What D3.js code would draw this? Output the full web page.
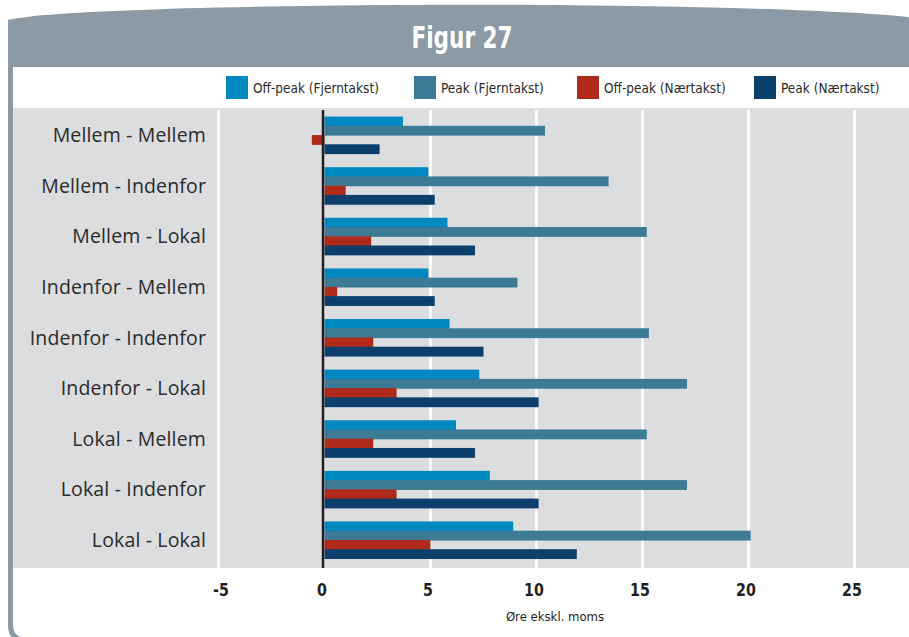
<!DOCTYPE html>
<html>
<head>
<meta charset="utf-8">
<script src="https://cdn.jsdelivr.net/npm/d3@7"></script>
<style>
  html, body { margin: 0; padding: 0; background: #ffffff; }
  svg { display: block; }
</style>
</head>
<body>
<svg id="chart" width="909" height="637"></svg>
<script>
// Route combinations (origin - destination zones)
const categories = [
  "Mellem - Mellem", "Mellem - Indenfor", "Mellem - Lokal",
  "Indenfor - Mellem", "Indenfor - Indenfor", "Indenfor - Lokal",
  "Lokal - Mellem", "Lokal - Indenfor", "Lokal - Lokal"
];
const seriesNames = ["Off-peak (Fjerntakst)", "Peak (Fjerntakst)", "Off-peak (Nærtakst)", "Peak (Nærtakst)"];
// Values in øre excl. VAT
const offpeakFjern = [3.7, 4.9, 5.8, 4.9, 5.9, 7.3, 6.2, 7.8, 8.9];
const peakFjern    = [10.4, 13.4, 15.2, 9.1, 15.3, 17.1, 15.2, 17.1, 20.1];
const offpeakNaer  = [-0.6, 1.0, 2.2, 0.6, 2.3, 3.4, 2.3, 3.4, 5.0];
const peakNaer     = [2.6, 5.2, 7.1, 5.2, 7.5, 10.1, 7.1, 10.1, 11.9];
const xTicks = [-5, 0, 5, 10, 15, 20, 25];
const seriesColors = ["#0089c0", "#3d7a95", "#b02a1c", "#0c3f6c"];

const seriesValues = [offpeakFjern, peakFjern, offpeakNaer, peakNaer];
const rows = categories.map((c, i) => ({
  cat: c,
  vals: seriesValues.map((s, k) => ({ key: seriesNames[k], v: s[i] }))
}));

const svg = d3.select("#chart");
const condensed = "'DejaVu Sans Condensed', 'Liberation Sans Narrow', sans-serif";
const frameCol = "#8b9aa5";

// Plot background
const plotTop = 108, plotBottom = 568;
svg.append("rect")
  .attr("x", 13).attr("y", plotTop)
  .attr("width", 909 - 13).attr("height", plotBottom - plotTop)
  .attr("fill", "#dcdddf");

// Left border with rounded lower corner
svg.append("path")
  .attr("d", "M10.5,60 V625 Q10.5,640 26,640 H 912")
  .attr("fill", "none").attr("stroke", frameCol).attr("stroke-width", 5);

// Header band with curved top edge
svg.append("path")
  .attr("d", "M8,67 L8,19.8 A465,18 0 0 1 912,17.6 L912,67 Z")
  .attr("fill", frameCol);

svg.append("text")
  .attr("transform", "translate(462,48) scale(0.8,1)")
  .attr("text-anchor", "middle")
  .attr("fill", "#ffffff")
  .attr("font-family", condensed)
  .attr("font-weight", "bold")
  .attr("font-size", 30)
  .text("Figur 27");

// Scales
const x = d3.scaleLinear().domain([-5, 25]).range([218.5, 854.5]);
const y = d3.scaleBand().domain(categories).range([110, 565]).paddingInner(0.27).paddingOuter(0.13);
const ySub = d3.scaleBand().domain(seriesNames).range([0, y.bandwidth()]);

// Gridlines
svg.append("g").selectAll("line")
  .data(xTicks.filter(t => t !== 0))
  .join("line")
  .attr("x1", d => x(d)).attr("x2", d => x(d))
  .attr("y1", plotTop + 2).attr("y2", plotBottom)
  .attr("stroke", "#ffffff").attr("stroke-width", 2.5);

// Bars
const groups = svg.append("g").selectAll("g")
  .data(rows)
  .join("g")
  .attr("transform", d => `translate(0,${y(d.cat)})`);

groups.selectAll("rect")
  .data(d => d.vals)
  .join("rect")
  .attr("x", d => x(Math.min(0, d.v)))
  .attr("y", d => ySub(d.key))
  .attr("width", d => Math.abs(x(d.v) - x(0)))
  .attr("height", ySub.bandwidth() + 0.6)
  .attr("fill", (d, k) => seriesColors[k]);

// Zero line
svg.append("line")
  .attr("x1", x(0) - 1.5).attr("x2", x(0) - 1.5)
  .attr("y1", plotTop + 2).attr("y2", plotBottom)
  .attr("stroke", "#231f20").attr("stroke-width", 2.5);

// Category labels
svg.append("g").selectAll("text")
  .data(categories)
  .join("text")
  .attr("x", 206)
  .attr("y", d => y(d) + y.bandwidth() / 2 + 7)
  .attr("text-anchor", "end")
  .attr("fill", "#2b2a2a")
  .attr("font-family", "'Open Sans', sans-serif")
  .attr("font-size", 19.5)
  .attr("letter-spacing", 0.15)
  .text(d => d);

// X axis tick labels (hyphen as minus sign; the sign hangs to the left)
const axis = d3.axisBottom(x).tickValues(xTicks).tickSize(0).tickPadding(0)
  .tickFormat(d => String(d));
const axG = svg.append("g").attr("transform", `translate(-3,${596})`).call(axis);
axG.select(".domain").remove();
axG.selectAll("text")
  .attr("dy", 0)
  .attr("transform", d => `translate(${d < 0 ? 5 : 0},0) scale(0.88,1)`)
  .attr("fill", "#231f20")
  .attr("font-family", condensed)
  .attr("font-weight", "bold")
  .attr("font-size", 18);

svg.append("text")
  .attr("x", 555).attr("y", 621)
  .attr("text-anchor", "middle")
  .attr("fill", "#231f20")
  .attr("font-family", condensed)
  .attr("font-size", 13)
  .text("Øre ekskl. moms");

// Legend
const legendX = [226, 414, 577, 754];
const legend = svg.append("g").selectAll("g")
  .data(seriesNames)
  .join("g")
  .attr("transform", (d, i) => `translate(${legendX[i]},76)`);
legend.append("rect")
  .attr("width", 22).attr("height", 23)
  .attr("fill", (d, i) => seriesColors[i]);
legend.append("text")
  .attr("x", 27).attr("y", 16.5)
  .attr("fill", "#2b2a2a")
  .attr("font-family", condensed)
  .attr("font-size", 13.5)
  .text(d => d);
</script>
</body>
</html>
